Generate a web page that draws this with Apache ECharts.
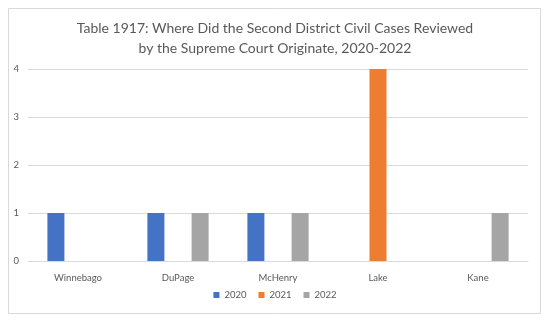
<!DOCTYPE html>
<html><head><meta charset="utf-8">
<script src="https://cdn.jsdelivr.net/npm/echarts@6/dist/echarts.min.js"></script>
<style>html,body{margin:0;padding:0;background:#fff}#c{width:550px;height:323px}</style>
</head><body><div id="c"></div>
<script>
const categories = ['Winnebago','DuPage','McHenry','Lake','Kane'];
const s2020 = [1,1,1,0,0];
const s2021 = [0,0,0,4,0];
const s2022 = [0,1,1,0,1];
const yTicks = [0,1,2,3,4];
const chart = echarts.init(document.getElementById('c'), null, {renderer:'canvas'});
const font = 'Lato, "Open Sans", sans-serif';
function mk(name, data, color){
  return {name, type:'bar', data: data.map(v=> v===0 ? null : v), itemStyle:{color}, barWidth:17, barGap:'30%', barCategoryGap:'39%'};
}
chart.setOption({
  animation:false,
  graphic:[{type:'rect', shape:{x:8.5,y:8.5,width:532,height:305}, style:{fill:'none', stroke:'#d9d9d9', lineWidth:1}}],
  title:{text:'Table 1917: Where Did the Second District Civil Cases Reviewed\nby the Supreme Court Originate, 2020-2022', left:'center', top:13,
    textStyle:{fontFamily:font, fontSize:14, fontWeight:'normal', color:'#595959', lineHeight:20}},
  grid:{left:28, right:22, top:69, bottom:62, containLabel:false},
  xAxis:{type:'category', data:categories, axisLine:{lineStyle:{color:'#d9d9d9'}}, axisTick:{show:false},
    axisLabel:{fontFamily:font, fontSize:9.5, color:'#595959', margin:12}},
  yAxis:{type:'value', min:yTicks[0], max:yTicks[yTicks.length-1], interval:1, axisLine:{show:false}, axisTick:{show:false},
    splitLine:{lineStyle:{color:'#d9d9d9'}}, axisLabel:{fontFamily:font, fontSize:9.5, color:'#595959', margin:9}},
  legend:{bottom:18, left:'center', itemWidth:6, itemHeight:6, itemGap:12, icon:'rect',
    textStyle:{fontFamily:font, fontSize:9.5, color:'#595959'}},
  series:[mk('2020',s2020,'#4472C4'), mk('2021',s2021,'#ED7D31'), mk('2022',s2022,'#A5A5A5')]
});
</script></body></html>
